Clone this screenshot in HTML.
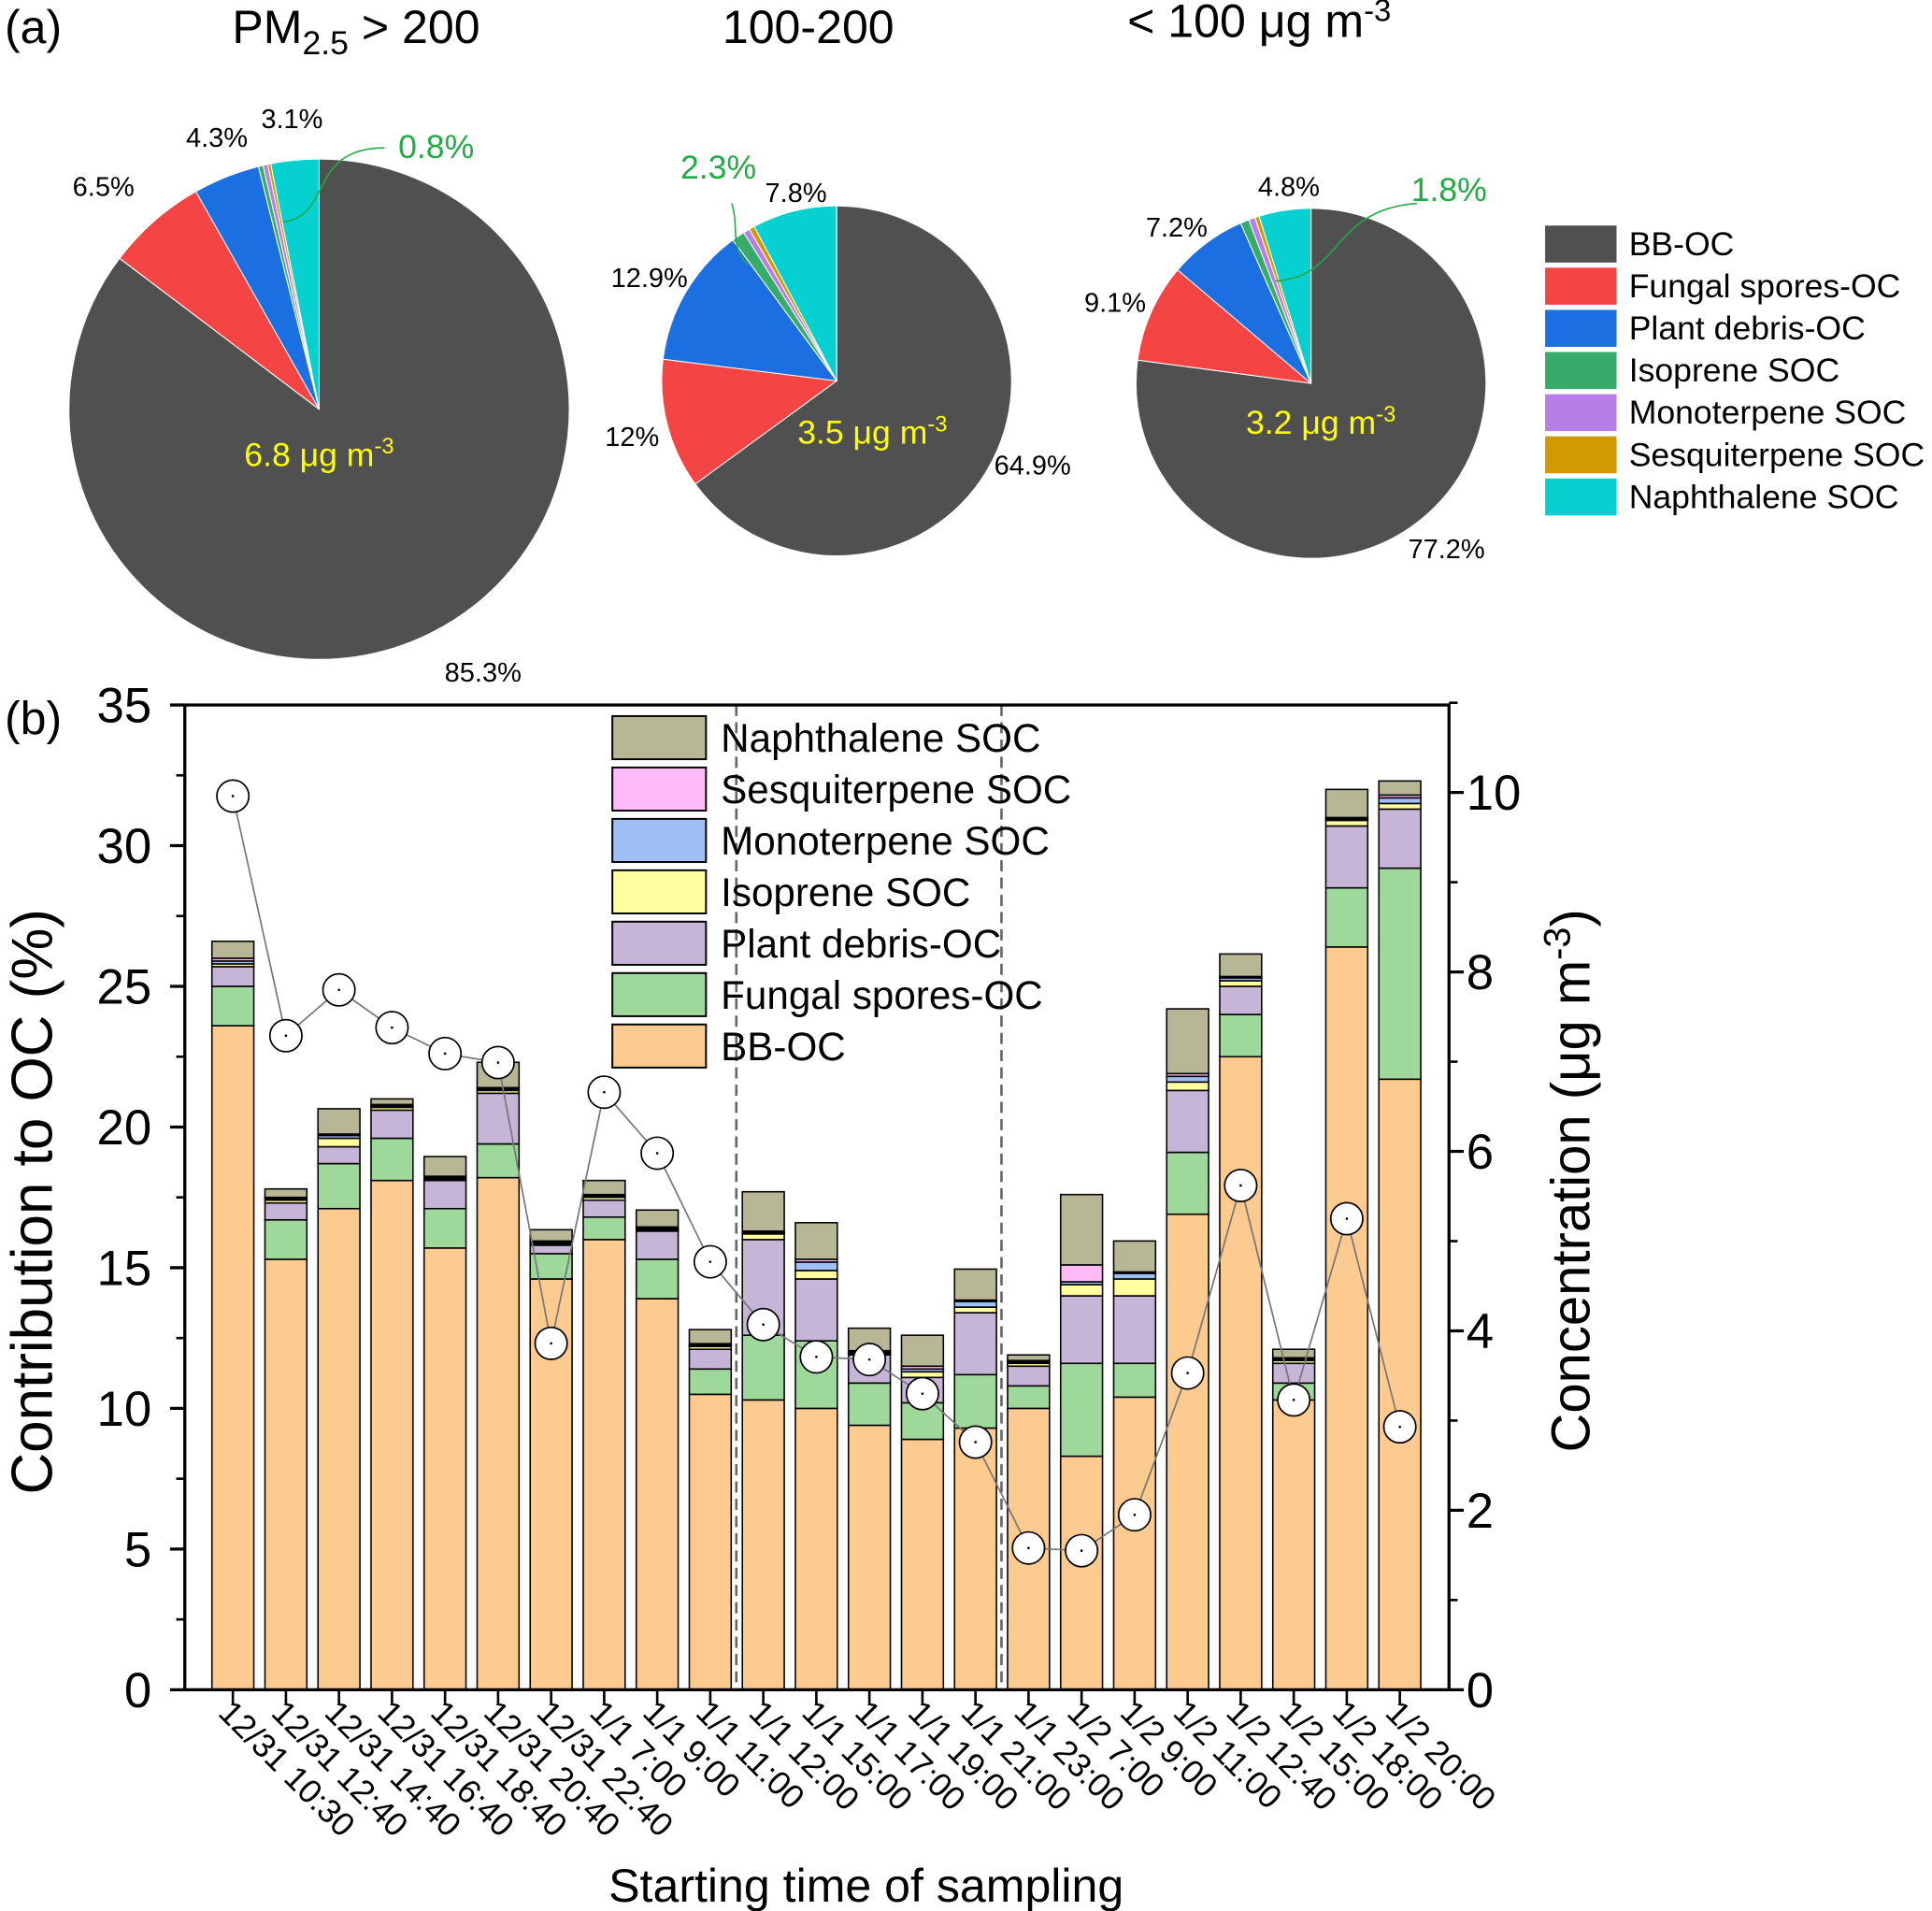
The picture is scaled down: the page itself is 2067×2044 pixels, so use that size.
<!DOCTYPE html>
<html><head><meta charset="utf-8"><style>
html,body{margin:0;padding:0;background:#fff}
svg{display:block;font-family:"Liberation Sans",sans-serif}
</style></head><body>
<svg id="fig" width="2067" height="2044" viewBox="0 0 1568 1550.5" xmlns="http://www.w3.org/2000/svg">
<g id="pies"></g>
<g id="bars"></g>
</svg>
<script>
// ---------- data ----------
const pieNames = ["BB-OC","Fungal spores-OC","Plant debris-OC","Isoprene SOC","Monoterpene SOC","Sesquiterpene SOC","Naphthalene SOC"];
const pie1 = [85.3,6.5,4.3,0.3,0.3,0.2,3.1];
const pie2 = [64.9,12,12.9,1.2,0.6,0.5,7.8];
const pie3 = [77.2,9.1,7.2,0.8,0.6,0.4,4.8];
const categories = ["12/31 10:30","12/31 12:40","12/31 14:40","12/31 16:40","12/31 18:40","12/31 20:40","12/31 22:40","1/1 7:00","1/1 9:00","1/1 11:00","1/1 12:00","1/1 15:00","1/1 17:00","1/1 19:00","1/1 21:00","1/1 23:00","1/2 7:00","1/2 9:00","1/2 11:00","1/2 12:40","1/2 15:00","1/2 18:00","1/2 20:00"];
const bbOC =      [23.6,15.3,17.1,18.1,15.7,18.2,14.6,16.0,13.9,10.5,10.3,10.0,9.4,8.9,9.3,10.0,8.3,10.4,16.9,22.5,10.3,26.4,21.7];
const fungalOC =  [1.4,1.4,1.6,1.5,1.4,1.2,0.9,0.8,1.4,0.9,2.3,2.4,1.5,1.3,1.9,0.8,3.3,1.2,2.2,1.5,0.6,2.1,7.5];
const plantOC =   [0.7,0.6,0.6,1.0,1.0,1.8,0.3,0.6,1.0,0.7,3.4,2.2,1.0,0.9,2.2,0.7,2.4,2.4,2.2,1.0,0.7,2.2,2.1];
const isopreneSOC=[0.1,0.1,0.3,0.1,0.05,0.1,0.05,0.1,0.05,0.1,0.2,0.3,0.05,0.2,0.2,0.1,0.4,0.6,0.3,0.2,0.1,0.2,0.2];
const monoSOC =   [0.1,0.05,0.1,0.05,0.05,0.05,0.05,0.05,0.05,0.05,0.05,0.3,0.05,0.1,0.2,0.05,0.1,0.2,0.2,0.1,0.05,0.05,0.2];
const sesquiSOC = [0.1,0.05,0.05,0.05,0.05,0.05,0.05,0.05,0.05,0.05,0.05,0.1,0.05,0.1,0.05,0.05,0.6,0.05,0.1,0.05,0.05,0.05,0.1];
const naphSOC =   [0.6,0.3,0.9,0.2,0.7,0.9,0.4,0.5,0.6,0.5,1.4,1.3,0.8,1.1,1.1,0.2,2.5,1.1,2.3,0.8,0.3,1.0,0.5];
const concentration = [9.96,7.29,7.80,7.38,7.09,6.99,3.86,6.66,5.98,4.77,4.07,3.71,3.68,3.30,2.76,1.58,1.55,1.95,3.53,5.62,3.23,5.25,2.93];
const leftTicks = [0,5,10,15,20,25,30,35];
const rightTicks = [0,2,4,6,8,10];

// ---------- helpers ----------
const NS="http://www.w3.org/2000/svg";
function mk(parent,tag,attrs,text){const e=document.createElementNS(NS,tag);for(const k in attrs)e.setAttribute(k,attrs[k]);if(text!==undefined)e.textContent=text;parent.appendChild(e);return e;}
const pieCol=["#505050","#f44444","#1b6fe0","#36ab6a","#b77ee8","#d09a00","#06d0d0"];
const barCol=["#fdca8f","#9ed89a","#c7b5d8","#ffff9f","#9fc0f5","#ffbaf7","#b7b796"];

// ---------- pies ----------
const P=document.getElementById('pies');
function drawPie(vals,cx,cy,r,id){
  const g=mk(P,'g',{});
  
  
  const tot=vals.reduce((a,b)=>a+b,0);let a0=0;
  vals.forEach((v,i)=>{
    const a1=a0+v/tot*2*Math.PI;
    const x0=cx+r*Math.sin(a0),y0=cy-r*Math.cos(a0),x1=cx+r*Math.sin(a1),y1=cy-r*Math.cos(a1);
    const large=(a1-a0)>Math.PI?1:0;
    const p=mk(g,'path',{d:`M${cx},${cy}L${x0},${y0}A${r},${r} 0 ${large} 1 ${x1},${y1}Z`,fill:pieCol[i],stroke:"#fff","stroke-width":0.8});
    
    
    a0=a1;
  });
}
drawPie(pie1,259,332,203,1);
drawPie(pie2,679,309,142,2);
drawPie(pie3,1064,311,142,3);
function txt(par,x,y,s,size,fill,name,anchor){const t=mk(par,'text',{x:x,y:y,'font-size':size,fill:fill||"#000",'text-anchor':anchor||'middle'},s);return t;}
txt(P,27,35,"(a)",38,"#000","panel-a-label");
let t=txt(P,289,35,"",38,"#000","pie-1-title");t.innerHTML='PM<tspan font-size="27" dy="9">2.5</tspan><tspan dy="-9"> &gt; 200</tspan>';
txt(P,656,35,"100-200",38,"#000","pie-2-title");
t=txt(P,1022,30,"",38,"#000","pie-3-title");t.innerHTML='&lt; 100 μg m<tspan font-size="25" dy="-13">-3</tspan>';
function conc(x,y,s,name){const e=txt(P,x,y,"",27,"#ffff00",name);e.innerHTML=s+' μg m<tspan font-size="18" dy="-10">-3</tspan>';}
conc(259,378,"6.8","pie-1-total");conc(708,360,"3.5","pie-2-total");conc(1072,352,"3.2","pie-3-total");
[[392,553,"85.3%"],[84,159,"6.5%"],[176,119,"4.3%"],[237,104,"3.1%"],[646,164,"7.8%"],[527,233,"12.9%"],[513,362,"12%"],[838,385,"64.9%"],[1046,159,"4.8%"],[955,192,"7.2%"],[905,253,"9.1%"],[1174,453,"77.2%"]].forEach((d,i)=>txt(P,d[0],d[1],d[2],22,"#000","pie-percent-"+i));
txt(P,354,128,"0.8%",27,"#22aa44","pie-1-minor-percent");
txt(P,583,145,"2.3%",27,"#22aa44","pie-2-minor-percent");
txt(P,1176,163,"1.8%",27,"#22aa44","pie-3-minor-percent");
[["M230,180 C270,175 250,120 312,120","312,120"],["M607,215 C592,200 600,185 594,165","594,165"],["M1035,228 C1090,225 1080,170 1150,165","1150,165"]].forEach((d,i)=>{const p=mk(P,'path',{d:d[0],fill:"none",stroke:"#22aa44","stroke-width":1.2});});
// pie legend
pieNames.forEach((n,i)=>{
  const y=183+i*34.2;
  const r=mk(P,'rect',{x:1254,y:y,width:58,height:30,fill:pieCol[i]});
  
  txt(P,1322,y+24,n,27,"#000","pie-legend-label-"+i,"start");
});

// ---------- bar chart ----------
const B=document.getElementById('bars');
const L=150,R=1176,T=572,BOT=1371;
const yL=v=>BOT-v*(BOT-T)/35;
const yR=v=>BOT-v*72.8;
const xC=i=>189+i*43.05;
const bw=34;
const series=[bbOC,fungalOC,plantOC,isopreneSOC,monoSOC,sesquiSOC,naphSOC];
categories.forEach((c,i)=>{
  let acc=0;
  series.forEach((s,k)=>{
    const v=s[i];
    const r=mk(B,'rect',{x:xC(i)-bw/2,y:yL(acc+v),width:bw,height:yL(acc)-yL(acc+v),fill:barCol[k],stroke:"#000","stroke-width":1.2});
    
    
    acc+=v;
  });
});
// dashed separators
[597.6,812.8].forEach((x,i)=>{const l=mk(B,'line',{x1:x,y1:T,x2:x,y2:BOT,stroke:"#666","stroke-width":2,"stroke-dasharray":"9,5"});});
// concentration line
const line=mk(B,'polyline',{points:concentration.map((v,i)=>xC(i)+","+yR(v)).join(" "),fill:"none",stroke:"#777","stroke-width":1.3});

concentration.forEach((v,i)=>{
  const c=mk(B,'circle',{cx:xC(i),cy:yR(v),r:13,fill:"#fff",stroke:"#000","stroke-width":1.3});
  
  mk(B,'circle',{cx:xC(i),cy:yR(v),r:1,fill:"#000"});
});
// axes frame
const fr=mk(B,'rect',{x:L,y:T,width:R-L,height:BOT-T,fill:"none",stroke:"#000","stroke-width":2.5});

leftTicks.forEach((v,i)=>{
  mk(B,'line',{x1:L-12,y1:yL(v),x2:L,y2:yL(v),stroke:"#000","stroke-width":2.5});
  if(v<35) mk(B,'line',{x1:L-7,y1:yL(v+2.5),x2:L,y2:yL(v+2.5),stroke:"#000","stroke-width":2});
  txt(B,123,yL(v)+14,String(v),40,"#000","left-tick-label-"+i,"end");
});
rightTicks.forEach((v,i)=>{
  mk(B,'line',{x1:R,y1:yR(v),x2:R+12,y2:yR(v),stroke:"#000","stroke-width":2.5});
  mk(B,'line',{x1:R,y1:yR(v+1),x2:R+7,y2:yR(v+1),stroke:"#000","stroke-width":2});
  txt(B,1190,yR(v)+14,String(v),40,"#000","right-tick-label-"+i,"start");
});
categories.forEach((c,i)=>{
  mk(B,'line',{x1:xC(i),y1:BOT,x2:xC(i),y2:BOT+12,stroke:"#000","stroke-width":2});
  const tl=txt(B,0,0,c,27,"#000","x-tick-label-"+i,"start");
  tl.setAttribute('transform',`translate(${xC(i)-13},${BOT+20}) rotate(45)`);
});
txt(B,27,596,"(b)",38,"#000","panel-b-label");
let yt=txt(B,0,0,"Contribution to OC (%)",47,"#000","y-axis-title-left");yt.setAttribute('transform','translate(42,975) rotate(-90)');
yt=txt(B,0,0,"",44,"#000","y-axis-title-right");yt.innerHTML='Concentration (μg m<tspan font-size="30" dy="-16">-3</tspan><tspan dy="16">)</tspan>';yt.setAttribute('transform','translate(1290,958) rotate(-90)');
txt(B,703,1543,"Starting time of sampling",38,"#000","x-axis-title");
// bar legend
const legNames=["Naphthalene SOC","Sesquiterpene SOC","Monoterpene SOC","Isoprene SOC","Plant debris-OC","Fungal spores-OC","BB-OC"];
const legIdx=[6,5,4,3,2,1,0];
legNames.forEach((n,i)=>{
  const y=581+i*41.7;
  const r=mk(B,'rect',{x:497,y:y,width:76,height:35,fill:barCol[legIdx[i]],stroke:"#000","stroke-width":1.5});
  
  txt(B,585,y+29,n,32,"#000","bar-legend-label-"+i,"start");
});
</script>
</body></html>
